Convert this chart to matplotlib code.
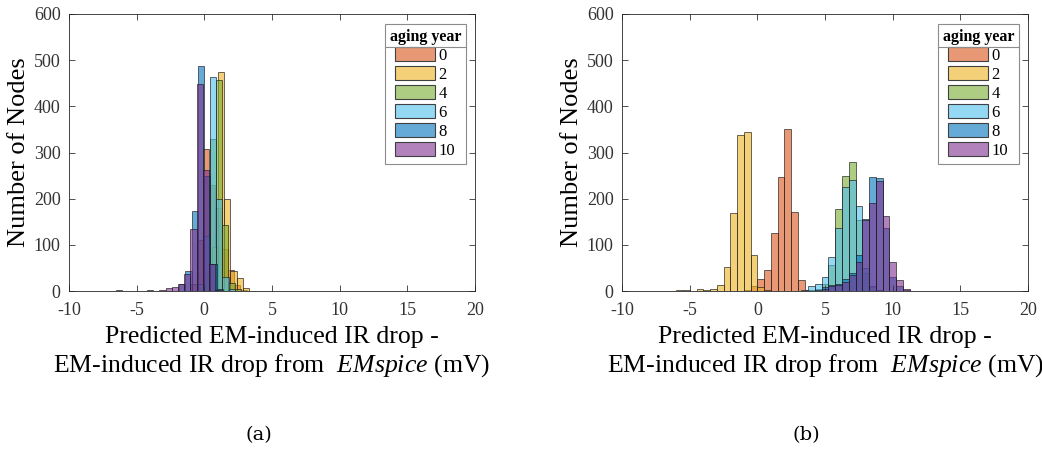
import matplotlib
matplotlib.use("Agg")
import matplotlib.pyplot as plt
from matplotlib.patches import Patch
from matplotlib.lines import Line2D
import numpy as np

plt.rcParams['font.family'] = ['Liberation Serif', 'DejaVu Serif']
plt.rcParams['mathtext.fontset'] = 'custom'
plt.rcParams['mathtext.rm'] = 'Liberation Serif'
plt.rcParams['mathtext.it'] = 'Liberation Serif:italic'
plt.rcParams['axes.unicode_minus'] = False

years = ['0', '2', '4', '6', '8', '10']
colors = [(0.850, 0.325, 0.098), (0.929, 0.694, 0.125), (0.466, 0.674, 0.188),
          (0.301, 0.745, 0.933), (0.000, 0.447, 0.741), (0.494, 0.184, 0.556)]

# ---- panel (a): bin width, first bin edge and counts per aging year ----
a_width = 0.46
a_start = [-1.02, 0.08, -0.06, -0.50, -1.85, -6.54]
a_y0 = [15, 110, 307, 230, 180, 90, 45, 12, 3]
a_y2 = [20, 95, 474, 199, 43, 29, 6]
a_y4 = [40, 329, 456, 142, 18, 4]
a_y6 = [15, 120, 463, 199, 30, 5]
a_y8 = [15, 44, 174, 488, 250, 58, 4]
a_y10 = [2, 1, 0, 0, 1, 2, 1, 3, 6, 8, 15, 37, 134, 448, 262, 58, 3]

# ---- panel (b) ----
b_width = 0.5
b_start = [-1.0, -6.0, 3.75, 3.25, 4.25, 4.75]
b_y0 = [3, 10, 27, 46, 125, 247, 350, 172, 24, 3, 1]
b_y2 = [2, 3, 1, 4, 3, 5, 12, 53, 168, 337, 345, 77, 8, 2]
b_y4 = [2, 5, 15, 57, 178, 249, 279, 153, 40, 8, 2]
b_y6 = [3, 10, 15, 30, 73, 137, 226, 241, 184, 50, 10, 2]
b_y8 = [3, 8, 12, 15, 25, 38, 78, 155, 247, 245, 137, 31, 10, 2]
b_y10 = [5, 10, 12, 20, 35, 62, 153, 191, 238, 162, 63, 23, 4, 1, 0, 1]

fig = plt.figure(figsize=(10.42, 4.57), dpi=100)
ax_a = fig.add_axes([0.0662, 0.3632, 0.3896, 0.6062])
ax_b = fig.add_axes([0.5970, 0.3632, 0.3896, 0.6062])

panels = [(ax_a, a_width, a_start, [a_y0, a_y2, a_y4, a_y6, a_y8, a_y10], '(a)', 0.2485),
          (ax_b, b_width, b_start, [b_y0, b_y2, b_y4, b_y6, b_y8, b_y10], '(b)', 0.7735)]

legends = []
for ax, w, starts, series, tag, tagx in panels:
    for c, x0, counts in zip(colors, starts, series):
        counts = np.array(counts)
        left = x0 + w * np.arange(len(counts))
        ax.bar(left, counts, width=w, align='edge',
               facecolor=(*c, 0.6), edgecolor=(0.1, 0.1, 0.1, 0.65), linewidth=0.7)
    ax.set_xlim(-10, 20)
    ax.set_ylim(0, 600)
    ax.set_xticks(np.arange(-10, 21, 5))
    ax.set_yticks(np.arange(0, 601, 100))
    ax.tick_params(direction='in', top=True, right=True, length=4, width=0.6,
                   labelsize=13, colors=(0.2, 0.2, 0.2))
    ax.tick_params(axis='x', pad=8)
    ax.tick_params(axis='y', pad=6)
    for sp in ax.spines.values():
        sp.set_color((0.15, 0.15, 0.15))
        sp.set_linewidth(0.6)
    ax.set_ylabel('Number of Nodes', fontsize=19, labelpad=3)
    ax.set_xlabel('Predicted EM-induced IR drop -\n'
                  r'EM-induced IR drop from  $\mathit{EMspice}$ (mV)',
                  fontsize=18.5, labelpad=5, linespacing=1.2)
    handles = [Patch(facecolor=(*c, 0.6), edgecolor=(0.25, 0.25, 0.25), linewidth=0.8)
               for c in colors]
    leg = ax.legend(handles, years, title='aging year', loc='upper right',
                    bbox_to_anchor=(0.978, 0.964), fontsize=12,
                    title_fontproperties={'weight': 'bold', 'size': 11.5},
                    handlelength=2.4, handleheight=0.9, handletextpad=0.2,
                    labelspacing=0.14, borderpad=0.3, borderaxespad=0.0,
                    fancybox=False, framealpha=1, edgecolor=(0.55, 0.55, 0.55))
    leg.get_frame().set_linewidth(0.8)
    legends.append(leg)
    fig.text(tagx, 0.028, tag, ha='center', va='bottom', fontsize=14,
             family='DejaVu Serif')

# separator line under the legend title
fig.canvas.draw()
renderer = fig.canvas.get_renderer()
inv = fig.transFigure.inverted()
for leg in legends:
    fb = leg.get_frame().get_window_extent(renderer)
    tb = leg.get_title().get_window_extent(renderer)
    yline = tb.y0 - 2
    (x0, y0), (x1, _) = inv.transform([(fb.x0, yline), (fb.x1, yline)])
    fig.add_artist(Line2D([x0, x1], [y0, y0], transform=fig.transFigure,
                          color=(0.55, 0.55, 0.55), linewidth=0.8))

fig.savefig('out.png', dpi=100)
